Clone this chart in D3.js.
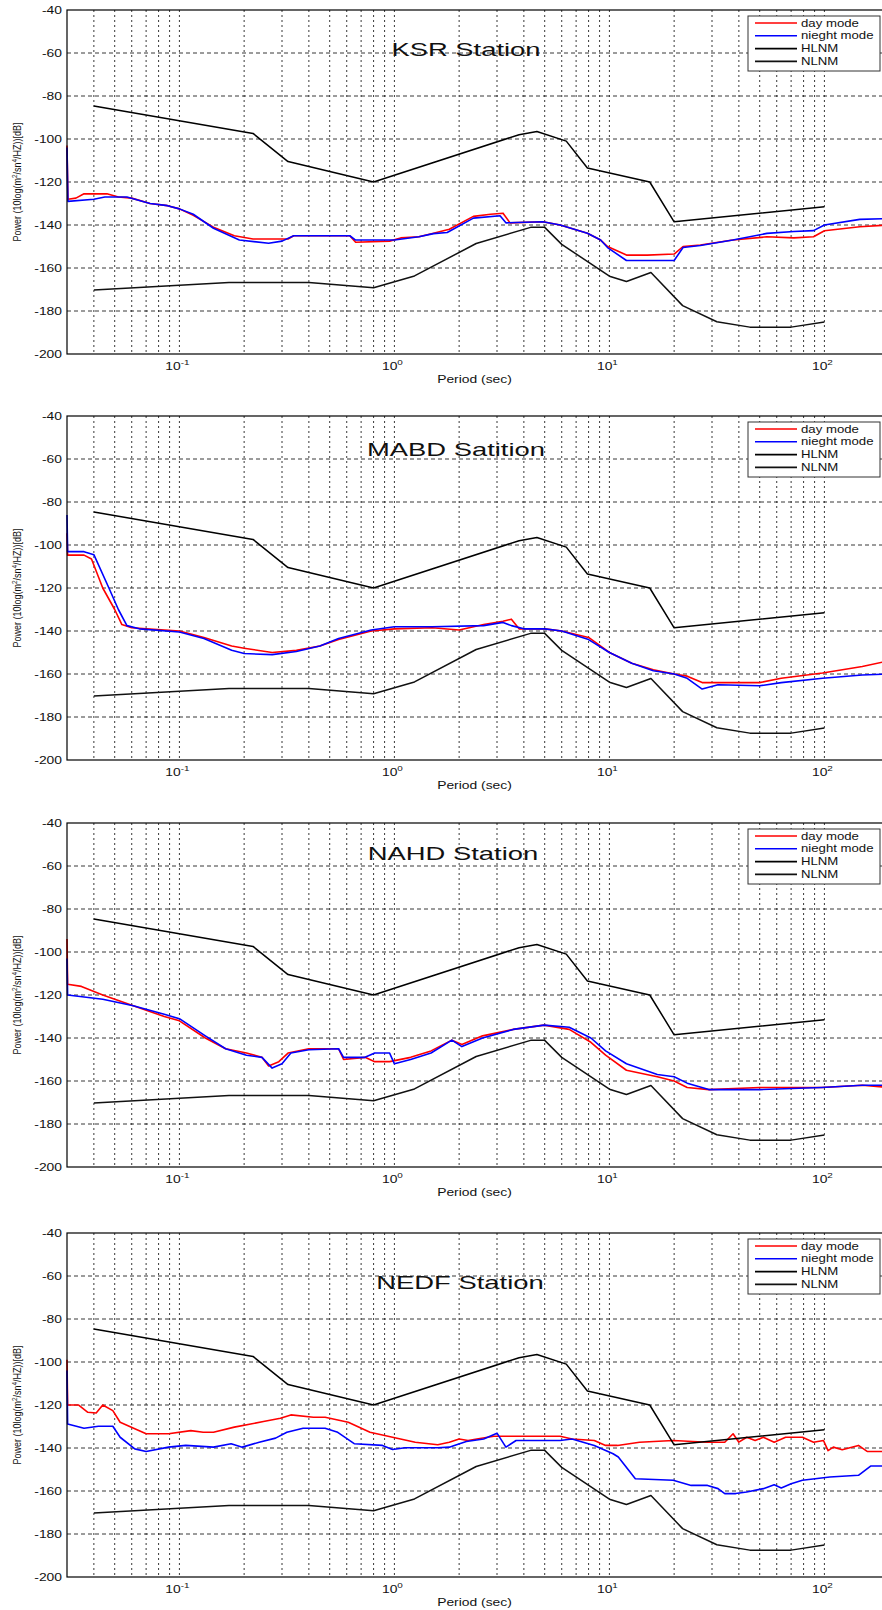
<!DOCTYPE html>
<html>
<head>
<meta charset="utf-8">
<script src="https://cdn.jsdelivr.net/npm/d3@7"></script>
<style>
  body { margin: 0; background: #fff; }
  svg { display: block; font-family: "Liberation Sans", Arial, sans-serif; }
</style>
</head>
<body>
<svg width="882" height="1610"></svg>
<script>
// Peterson new high / low noise models, [period (s), dB]
const HLNM = [[0.04,-84.6],[0.22,-97.4],[0.32,-110.5],[0.8,-120.0],[3.8,-98.0],[4.6,-96.5],
  [6.3,-101.0],[7.9,-113.5],[15.4,-120.0],[20,-138.5],[100,-131.5]];
const NLNM = [[0.04,-170.2],[0.17,-166.7],[0.4,-166.7],[0.8,-169.2],[1.24,-163.7],[2.4,-148.6],
  [4.3,-141.1],[5,-141.1],[6,-149.0],[10,-163.8],[12,-166.3],[15.6,-162.1],[21.9,-177.5],
  [31.6,-185.0],[45,-187.5],[70,-187.5],[100,-185.1]];

// station PSD curves, [period (s), dB]
const KSR_DAY = [[0.0300,-103],[0.0303,-128],[0.033,-127.5],[0.036,-125.5],[0.046,-125.5],[0.052,-127],
  [0.06,-127.5],[0.073,-130],[0.088,-131],[0.1,-132.5],[0.116,-135.5],[0.144,-141],[0.18,-145],
  [0.22,-146.5],[0.32,-146.5],[0.34,-145],[0.62,-145],[0.66,-148],[0.95,-147.5],[1.07,-146],
  [1.3,-145.5],[1.52,-143.8],[1.8,-142],[2.33,-136],[2.8,-135],[3.2,-134.5],[3.45,-139],[4.9,-138.5],
  [5.9,-140],[7.9,-143.8],[9.1,-147],[9.8,-150],[12,-154],[15,-154],[20,-153.5],[22,-150],
  [26.5,-149.3],[37.5,-147],[54,-145.5],[72,-146],[89,-145.5],[100,-142.7],[146,-140.8],[200,-140]];
const KSR_NIGHT = [[0.0300,-104],[0.0303,-129],[0.04,-128],[0.045,-127],[0.057,-127],[0.073,-130],
  [0.088,-131],[0.1,-132.5],[0.116,-135],[0.144,-141.5],[0.19,-147],[0.26,-148.5],[0.3,-147.5],
  [0.34,-145],[0.62,-145],[0.66,-147],[1.0,-147],[1.3,-145.5],[1.52,-144],[1.76,-143.5],[2.33,-136.8],
  [3.1,-135.7],[3.3,-139],[4.9,-138.5],[5.9,-140],[7.9,-143.8],[9.1,-147],[9.8,-150.5],[12,-156.5],
  [20,-156.5],[22,-150.5],[26.5,-149.5],[37.5,-147],[54,-143.9],[72,-143],[89,-142.6],[100,-140],
  [146,-137.4],[200,-137]];

const MABD_DAY = [[0.0300,-94.5],[0.0302,-104.7],[0.036,-104.7],[0.039,-106.5],[0.044,-120],[0.05,-130],
  [0.054,-137],[0.06,-138.5],[0.1,-140],[0.13,-143],[0.175,-147],[0.2,-148],[0.27,-150],[0.35,-149],
  [0.45,-147],[0.55,-144],[0.78,-140],[1.0,-139],[1.5,-138.5],[2.0,-139.5],[2.6,-137],[3.2,-135.5],
  [3.5,-134.5],[3.8,-139],[5,-139],[6,-140],[8,-143],[10,-150],[12.7,-155],[16,-158],[20,-160],
  [23,-161],[27,-164],[32,-164],[50,-164],[63,-162],[98,-159.5],[150,-156.5],[186,-154.5],[200,-154]];
const MABD_NIGHT = [[0.0300,-86],[0.0302,-103.1],[0.036,-103.1],[0.04,-104.5],[0.047,-120],[0.052,-130],
  [0.057,-137.5],[0.065,-139],[0.1,-140.5],[0.13,-143.5],[0.175,-149],[0.2,-150.5],[0.27,-151],
  [0.35,-149.5],[0.45,-147],[0.55,-143.5],[0.78,-139.5],[1.0,-138],[1.5,-138],[2.6,-137.5],[3.2,-136],
  [3.5,-137.5],[4,-139],[5,-139],[6,-140],[8,-144],[10,-150],[12.7,-155],[16,-158.5],[20,-160],
  [23,-162],[27,-167],[32,-165],[50,-165.5],[63,-164],[98,-162],[150,-160.5],[200,-160]];

const NAHD_DAY = [[0.0300,-94],[0.0302,-115],[0.035,-116],[0.044,-120],[0.061,-125],[0.085,-130],
  [0.1,-132],[0.132,-140],[0.164,-145],[0.205,-147],[0.242,-149],[0.26,-153],[0.29,-151],[0.32,-147],
  [0.4,-145],[0.55,-145],[0.58,-150],[0.73,-149],[0.81,-151],[0.95,-151],[1.19,-149],[1.48,-146],
  [1.85,-141],[2.06,-143],[2.57,-139],[3.57,-136],[4.97,-134],[6.5,-136],[8.2,-142],[9.6,-148],
  [12,-155],[16.7,-158],[20,-160],[23,-163],[29,-164],[50,-163],[97,-163],[150,-162],[200,-163]];
const NAHD_NIGHT = [[0.0300,-103],[0.0302,-120],[0.044,-122],[0.061,-125],[0.085,-129],[0.1,-131],
  [0.132,-139],[0.164,-145],[0.205,-148],[0.242,-149],[0.27,-154],[0.3,-152],[0.33,-147],[0.4,-145.5],
  [0.55,-145],[0.58,-149],[0.73,-149],[0.81,-147],[0.95,-147],[1.0,-152],[1.19,-150],[1.48,-147],
  [1.85,-141],[2.06,-144],[2.57,-140],[3.57,-136],[4.97,-134],[6.5,-135],[8.2,-140],[9.6,-146],
  [12,-152],[16.7,-157],[20,-158],[23,-161],[29,-164],[50,-164],[97,-163],[150,-162],[200,-162]];

const NEDF_DAY = [[0.0300,-99],[0.0302,-120],[0.034,-120],[0.0375,-123.4],[0.041,-123.7],[0.044,-120],
  [0.049,-122.6],[0.053,-128],[0.062,-131],[0.07,-133.4],[0.089,-133.4],[0.113,-131.9],[0.129,-132.7],
  [0.144,-132.7],[0.18,-130.3],[0.246,-127.7],[0.295,-126.2],[0.33,-124.6],[0.42,-125.7],[0.476,-125.7],
  [0.61,-128],[0.77,-132.7],[0.98,-135],[1.25,-137.3],[1.59,-138.5],[1.8,-137.3],[2.0,-135.8],
  [2.2,-136.5],[2.42,-135.8],[2.9,-134.5],[3.3,-134.5],[5.9,-134.5],[6.7,-135.8],[8.5,-136.5],
  [9.6,-138.8],[10.9,-138.8],[13.8,-137.3],[19.8,-136.5],[28.6,-137.3],[34.4,-137.3],[37.6,-133.4],
  [40,-137.3],[43.5,-135],[47.6,-136.5],[52,-135],[58.4,-137.3],[66,-135],[79,-135],[89,-137.3],
  [99,-136.5],[104,-141.2],[110,-139.6],[121,-140.8],[144,-138.8],[158,-141.6],[200,-141.6]];
const NEDF_NIGHT = [[0.0300,-104],[0.0302,-128.8],[0.036,-130.8],[0.042,-129.9],[0.049,-129.9],
  [0.053,-135],[0.062,-140.4],[0.07,-141.6],[0.089,-139.6],[0.107,-138.8],[0.144,-139.6],[0.174,-138],
  [0.196,-139.6],[0.235,-137.3],[0.28,-135.4],[0.316,-132.7],[0.376,-130.8],[0.476,-130.8],
  [0.545,-132.7],[0.65,-138],[0.88,-138.8],[0.98,-140.7],[1.12,-139.9],[1.59,-139.9],[1.8,-139.6],
  [1.9,-138.8],[2.16,-137],[2.6,-135.8],[3.0,-133.1],[3.3,-139.6],[3.68,-136.5],[5.9,-136.5],
  [6.7,-135.8],[8.5,-138.8],[10.4,-142.7],[11,-144.2],[13.2,-154.3],[19.8,-155],[24,-157.4],
  [28.6,-157.4],[32,-158.9],[34.4,-161.2],[38.7,-161.2],[43.5,-160.5],[52,-158.9],[58.4,-157.1],
  [63,-158.6],[70,-156.6],[79,-155],[106,-153.5],[144,-152.7],[164,-148.4],[200,-148.4]];

const STATIONS = [
  { title: "KSR Station",   day: KSR_DAY,  night: KSR_NIGHT },
  { title: "MABD Satition", day: MABD_DAY, night: MABD_NIGHT },
  { title: "NAHD Station",  day: NAHD_DAY, night: NAHD_NIGHT },
  { title: "NEDF Station",  day: NEDF_DAY, night: NEDF_NIGHT }
];
const Y_TICKS = [-40, -60, -80, -100, -120, -140, -160, -180, -200];
const X_TICKS = [0.1, 1, 10, 100];
const X_TICK_EXP = ["-1", "0", "1", "2"];
const LEGEND = ["day mode", "nieght mode", "HLNM", "NLNM"];

// layout
const PANEL_TOP = [10, 416, 823, 1233];
const TITLE_POS = [[466, 56], [456, 456], [453, 860], [460, 1289]];
const PANEL_H = 344;
const LEFT = 67;
const DECADE = 215;
const STRETCH = 1.32; // the original figure is stretched sideways
const COLORS = ["#ff0000", "#0000ff", "#000000", "#111111"];

const svg = d3.select("svg");
const x = d3.scaleLog().domain([0.03, 200])
  .range([LEFT, LEFT + DECADE * Math.log10(200 / 0.03)]);
const gridX = x.ticks().filter(v => v > 0.031 && v < 199);

function wideText(g, px, py, str, size, anchor, sx) {
  return g.append("text")
    .attr("transform", `translate(${px},${py}) scale(${sx || STRETCH},1)`)
    .attr("text-anchor", anchor || "start")
    .attr("font-size", size)
    .attr("fill", "#111")
    .text(str);
}

STATIONS.forEach((st, i) => {
  const top = PANEL_TOP[i];
  const y = d3.scaleLinear().domain([-200, -40]).range([top + PANEL_H, top]);
  const g = svg.append("g");
  const right = x.range()[1];

  // grid
  g.selectAll(".hg").data(Y_TICKS.slice(1, -1)).enter().append("line")
    .attr("x1", LEFT).attr("x2", right)
    .attr("y1", d => y(d)).attr("y2", d => y(d))
    .attr("stroke", "#222").attr("stroke-width", 0.9).attr("stroke-dasharray", "4,3");
  g.selectAll(".vg").data(gridX).enter().append("line")
    .attr("x1", d => x(d)).attr("x2", d => x(d))
    .attr("y1", top).attr("y2", top + PANEL_H)
    .attr("stroke", "#222").attr("stroke-width", 0.9).attr("stroke-dasharray", "2,3");

  // curves
  const line = d3.line().x(d => x(d[0])).y(d => y(d[1]));
  [st.day, st.night, HLNM, NLNM].forEach((s, k) => {
    g.append("path").datum(s).attr("d", line)
      .attr("fill", "none").attr("stroke", COLORS[k])
      .attr("stroke-width", k < 2 ? 1.6 : 1.5).attr("stroke-linejoin", "round");
  });

  // frame
  g.append("rect").attr("x", LEFT).attr("y", top)
    .attr("width", right - LEFT).attr("height", PANEL_H)
    .attr("fill", "none").attr("stroke", "#000").attr("stroke-width", 1.2);

  // y ticks
  Y_TICKS.forEach(v => {
    wideText(g, LEFT - 5, y(v) + 4, String(v), 10.5, "end");
  });
  // x ticks, 10^n
  X_TICKS.forEach((v, k) => {
    const t = g.append("text")
      .attr("transform", `translate(${x(v) - 2},${top + PANEL_H + 16}) scale(${STRETCH},1)`)
      .attr("text-anchor", "middle").attr("font-size", 10.5).attr("fill", "#111");
    t.append("tspan").text("10");
    t.append("tspan").attr("dy", -5).attr("font-size", 7.5).text(X_TICK_EXP[k]);
  });
  wideText(g, (LEFT + 882) / 2, top + PANEL_H + 29, "Period (sec)", 10.5, "middle");

  // y label
  const yl = g.append("text")
    .attr("transform", `translate(21,${top + PANEL_H / 2}) rotate(-90) scale(1,1.2)`)
    .attr("text-anchor", "middle").attr("font-size", 9).attr("fill", "#111");
  yl.append("tspan").text("Power (10log(m");
  yl.append("tspan").attr("dy", -3.5).attr("font-size", 6.5).text("2");
  yl.append("tspan").attr("dy", 3.5).text("/sn");
  yl.append("tspan").attr("dy", -3.5).attr("font-size", 6.5).text("4");
  yl.append("tspan").attr("dy", 3.5).text("/HZ))[dB]");

  // title
  wideText(g, TITLE_POS[i][0], TITLE_POS[i][1], st.title, 18.5, "middle", 1.48);

  // legend
  const lg = g.append("g").attr("transform", `translate(748,${top + 6})`);
  lg.append("rect").attr("width", 132).attr("height", 55)
    .attr("fill", "#fff").attr("stroke", "#333").attr("stroke-width", 1);
  LEGEND.forEach((name, k) => {
    const ly = 7 + k * 12.8;
    lg.append("line").attr("x1", 7).attr("x2", 49).attr("y1", ly).attr("y2", ly)
      .attr("stroke", COLORS[k]).attr("stroke-width", 1.6);
    wideText(lg, 53, ly + 3.5, name, 10, "start");
  });
});
</script>
</body>
</html>
